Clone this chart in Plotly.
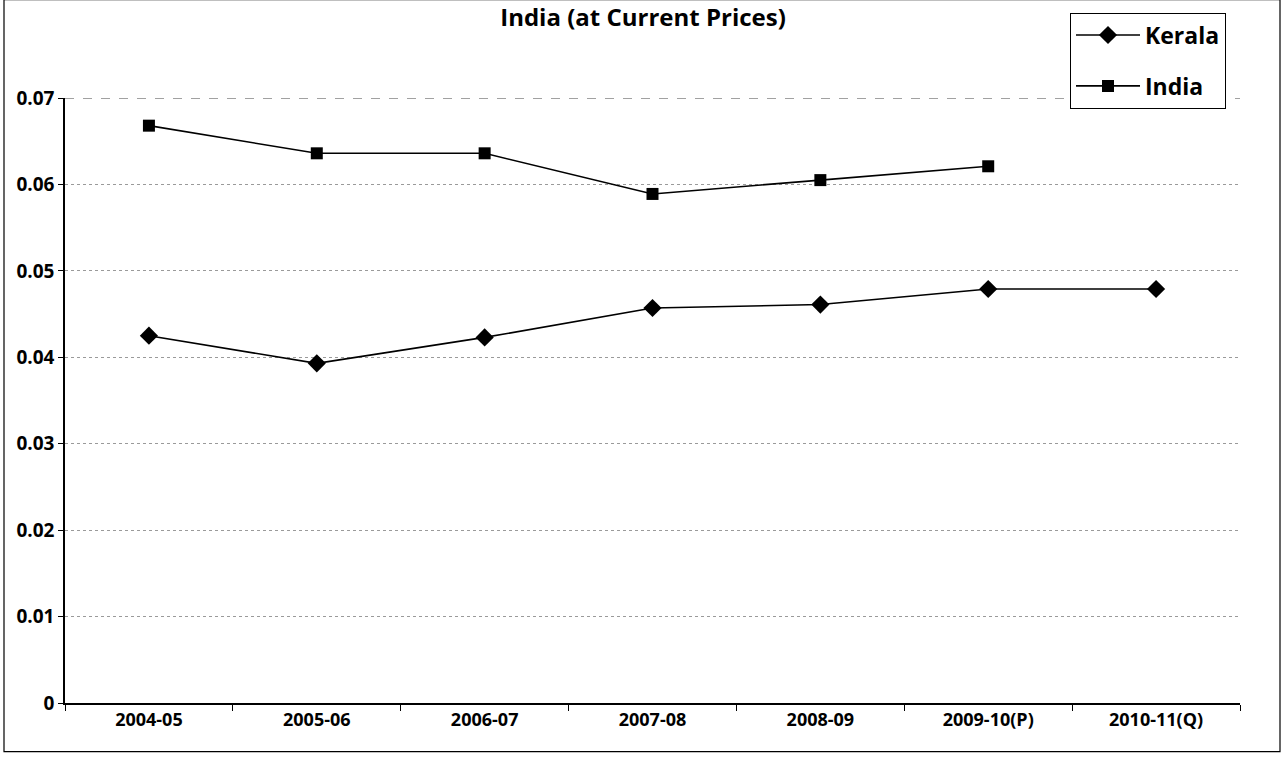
import plotly.graph_objects as go

years = ["2004-05", "2005-06", "2006-07", "2007-08", "2008-09", "2009-10(P)", "2010-11(Q)"]
kerala = [0.0425, 0.0393, 0.0423, 0.0457, 0.0461, 0.0479, 0.0479]
india = [0.0668, 0.0636, 0.0636, 0.0589, 0.0605, 0.0621, None]
y_ticks = [0, 0.01, 0.02, 0.03, 0.04, 0.05, 0.06, 0.07]
y_labels = ["0", "0.01", "0.02", "0.03", "0.04", "0.05", "0.06", "0.07"]

W, H = 1284, 757
L, R, T, B = 65, 44, 94, 54
pw, ph = W - L - R, H - T - B

def px_x(x):
    return (x - L) / pw

def px_y(y):
    return (H - B - y) / ph

fig = go.Figure()
fig.add_trace(go.Scatter(
    x=years, y=kerala, name="Kerala", mode="lines+markers", legendgroup="k",
    line=dict(color="black", width=1.6),
    marker=dict(symbol="diamond", size=14, color="black"),
))
fig.add_trace(go.Scatter(
    x=years, y=india, name="India", mode="lines+markers", legendgroup="i",
    line=dict(color="black", width=1.6),
    marker=dict(symbol="square", size=12, color="black"),
))

fig.update_layout(
    width=W, height=H,
    margin=dict(l=L, r=R, t=T, b=B),
    paper_bgcolor="white", plot_bgcolor="white",
    font=dict(family="Open Sans", color="black"),
    title=dict(
        text="<b>India (at Current Prices)</b>",
        x=px_x(643), xref="paper", xanchor="center",
        y=1 - 18 / H, yanchor="middle",
        font=dict(size=24, family="Open Sans", color="black"),
    ),
    showlegend=True,
    legend=dict(
        x=px_x(1070), y=px_y(8), xanchor="left", yanchor="top",
        bordercolor="black", borderwidth=1, bgcolor="white",
        font=dict(size=23, family="Open Sans", color="black", weight="bold"),
        itemwidth=64, tracegroupgap=18,
    ),
    xaxis=dict(
        type="category", range=[-0.5, 6.5],
        showline=True, linecolor="black", linewidth=1.5,
        ticks="outside", tickson="boundaries", ticklen=6, tickcolor="black",
        showgrid=False,
        tickfont=dict(size=18, family="Open Sans", color="black", weight="bold"),
    ),
    yaxis=dict(
        range=[0, 0.07], tickvals=y_ticks, ticktext=y_labels,
        showline=True, linecolor="black", linewidth=1.5,
        ticks="outside", ticklen=5, tickcolor="black",
        showgrid=True, gridcolor="#9a9a9a", gridwidth=1, griddash="dot",
        zeroline=False,
        tickfont=dict(size=19, family="Open Sans", color="black", weight="bold"),
    ),
)

# darker top gridline at 0.07
fig.add_shape(
    type="line", xref="paper", yref="y",
    x0=0, x1=1, y0=0.07, y1=0.07,
    line=dict(color="#444444", width=1.2, dash="dash"),
)

# outer chart frame
fig.add_shape(
    type="rect", xref="paper", yref="paper",
    x0=px_x(4), x1=px_x(1280), y0=px_y(752), y1=px_y(-5),
    line=dict(color="black", width=1.2),
)

fig.write_html("out.html")
